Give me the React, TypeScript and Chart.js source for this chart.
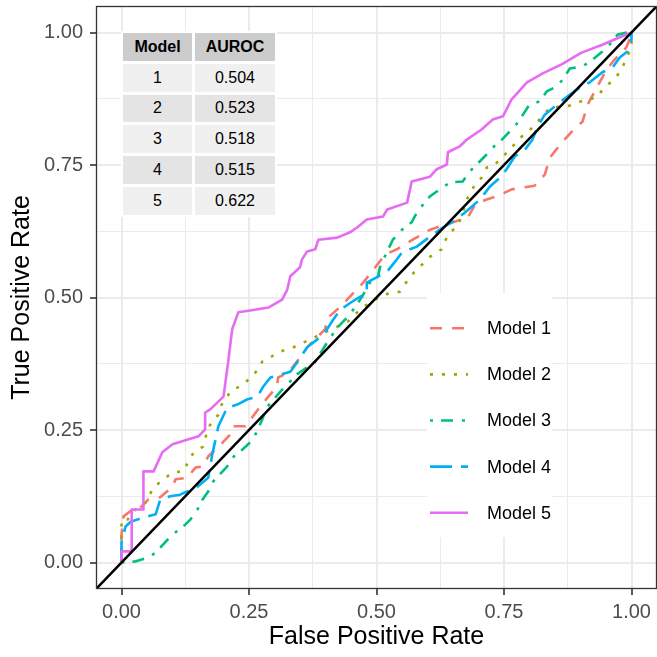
import React, { useEffect, useRef } from 'react';
import { Chart, registerables } from 'chart.js';

Chart.register(...registerables);

const FONT = '"Liberation Sans", Arial, Helvetica, sans-serif';

// ---------- data ----------
const modelNames = ['Model 1', 'Model 2', 'Model 3', 'Model 4', 'Model 5'];
const modelColors = ['#F8766D', '#A3A500', '#00BF7D', '#00B0F6', '#E76BF3'];
const modelDashes = [[12, 10], [3, 9], [3, 8, 12, 9], [22, 9], []];

const model1Fpr = [0, 0, 0.004, 0.022, 0.033, 0.053, 0.076, 0.1, 0.106, 0.129, 0.145, 0.159, 0.17, 0.198, 0.217, 0.219, 0.243, 0.268, 0.288, 0.305, 0.307, 0.327, 0.344, 0.366, 0.399, 0.405, 0.432, 0.452, 0.474, 0.517, 0.54, 0.571, 0.605, 0.679, 0.693, 0.716, 0.736, 0.765, 0.81, 0.83, 0.84, 0.863, 0.883, 0.904, 0.914, 0.932, 0.951, 0.967, 0.99, 0.996, 1];
const model1Tpr = [0, 0.053, 0.087, 0.1, 0.1, 0.119, 0.123, 0.143, 0.157, 0.16, 0.179, 0.181, 0.2, 0.226, 0.245, 0.257, 0.257, 0.289, 0.313, 0.332, 0.349, 0.358, 0.379, 0.408, 0.44, 0.462, 0.485, 0.506, 0.528, 0.581, 0.591, 0.609, 0.628, 0.651, 0.675, 0.685, 0.691, 0.704, 0.711, 0.732, 0.764, 0.792, 0.813, 0.832, 0.864, 0.896, 0.93, 0.949, 0.972, 0.987, 1];

const model2Fpr = [0, 0, 0.012, 0.027, 0.047, 0.063, 0.1, 0.121, 0.139, 0.16, 0.17, 0.19, 0.198, 0.217, 0.233, 0.249, 0.268, 0.276, 0.292, 0.305, 0.337, 0.37, 0.403, 0.419, 0.444, 0.472, 0.497, 0.526, 0.546, 0.566, 0.585, 0.605, 0.628, 0.64, 0.658, 0.667, 0.677, 0.693, 0.706, 0.716, 0.728, 0.748, 0.761, 0.785, 0.796, 0.816, 0.84, 0.879, 0.912, 0.932, 0.943, 0.971, 0.982, 0.996, 1, 1];
const model2Tpr = [0, 0.081, 0.081, 0.1, 0.113, 0.142, 0.17, 0.172, 0.204, 0.219, 0.255, 0.279, 0.302, 0.326, 0.332, 0.345, 0.364, 0.379, 0.387, 0.396, 0.406, 0.421, 0.436, 0.443, 0.455, 0.481, 0.496, 0.509, 0.511, 0.54, 0.558, 0.577, 0.591, 0.619, 0.634, 0.653, 0.685, 0.713, 0.726, 0.745, 0.747, 0.766, 0.779, 0.804, 0.811, 0.832, 0.858, 0.862, 0.874, 0.877, 0.892, 0.917, 0.934, 0.964, 0.968, 1];

const model3Fpr = [0, 0.027, 0.057, 0.076, 0.1, 0.119, 0.135, 0.149, 0.159, 0.17, 0.18, 0.207, 0.223, 0.237, 0.258, 0.276, 0.284, 0.315, 0.344, 0.38, 0.403, 0.423, 0.448, 0.472, 0.487, 0.503, 0.507, 0.523, 0.532, 0.55, 0.569, 0.579, 0.591, 0.605, 0.624, 0.644, 0.669, 0.683, 0.712, 0.728, 0.746, 0.761, 0.777, 0.8, 0.82, 0.834, 0.853, 0.865, 0.879, 0.904, 0.924, 0.943, 0.957, 0.973, 0.992, 1];
const model3Tpr = [0, 0.002, 0.011, 0.028, 0.053, 0.066, 0.081, 0.1, 0.119, 0.134, 0.153, 0.181, 0.204, 0.213, 0.232, 0.27, 0.292, 0.326, 0.355, 0.379, 0.415, 0.443, 0.468, 0.502, 0.528, 0.54, 0.558, 0.591, 0.609, 0.628, 0.642, 0.66, 0.675, 0.691, 0.704, 0.717, 0.719, 0.738, 0.766, 0.783, 0.798, 0.813, 0.83, 0.864, 0.87, 0.889, 0.898, 0.911, 0.932, 0.936, 0.949, 0.964, 0.977, 0.996, 1, 1];

const model4Fpr = [0, 0, 0.008, 0.018, 0.051, 0.067, 0.076, 0.096, 0.115, 0.149, 0.17, 0.178, 0.19, 0.207, 0.227, 0.247, 0.266, 0.278, 0.292, 0.331, 0.344, 0.364, 0.384, 0.403, 0.415, 0.429, 0.452, 0.481, 0.481, 0.521, 0.54, 0.55, 0.579, 0.605, 0.63, 0.65, 0.673, 0.703, 0.722, 0.742, 0.755, 0.771, 0.791, 0.806, 0.816, 0.83, 0.859, 0.892, 0.918, 0.943, 0.963, 0.977, 0.992, 1, 1];
const model4Tpr = [0, 0.038, 0.068, 0.077, 0.087, 0.091, 0.119, 0.125, 0.128, 0.143, 0.16, 0.204, 0.257, 0.292, 0.298, 0.308, 0.313, 0.332, 0.349, 0.36, 0.377, 0.406, 0.421, 0.44, 0.458, 0.477, 0.492, 0.509, 0.528, 0.549, 0.572, 0.585, 0.596, 0.615, 0.632, 0.643, 0.66, 0.685, 0.709, 0.726, 0.742, 0.766, 0.779, 0.798, 0.823, 0.845, 0.868, 0.892, 0.906, 0.925, 0.934, 0.953, 0.964, 0.987, 1];

const model5Fpr = [0, 0, 0.02, 0.02, 0.043, 0.043, 0.063, 0.08, 0.1, 0.151, 0.164, 0.164, 0.174, 0.2, 0.209, 0.217, 0.229, 0.249, 0.288, 0.315, 0.325, 0.331, 0.35, 0.354, 0.364, 0.38, 0.386, 0.423, 0.448, 0.462, 0.481, 0.513, 0.521, 0.56, 0.569, 0.605, 0.618, 0.638, 0.64, 0.663, 0.677, 0.706, 0.728, 0.748, 0.765, 0.795, 0.826, 0.863, 0.902, 0.943, 0.977, 1];
const model5Tpr = [0, 0.021, 0.021, 0.1, 0.1, 0.172, 0.172, 0.208, 0.223, 0.238, 0.251, 0.283, 0.289, 0.313, 0.377, 0.44, 0.472, 0.475, 0.481, 0.496, 0.515, 0.54, 0.557, 0.572, 0.587, 0.591, 0.609, 0.613, 0.623, 0.632, 0.647, 0.653, 0.666, 0.679, 0.719, 0.728, 0.742, 0.751, 0.774, 0.785, 0.798, 0.817, 0.836, 0.842, 0.874, 0.906, 0.923, 0.94, 0.962, 0.977, 0.991, 1];

const diagonalX = [-0.05, 1.05];
const diagonalY = [-0.05, 1.05];

const majorTicks = [0, 0.25, 0.5, 0.75, 1];
const minorTicks = [0.125, 0.375, 0.625, 0.875];

const tableModels = ['1', '2', '3', '4', '5'];
const tableAuroc = ['0.504', '0.523', '0.518', '0.515', '0.622'];

const xTitle = 'False Positive Rate';
const yTitle = 'True Positive Rate';

// ---------- helpers ----------
const isMajor = (v: number) => majorTicks.some((m) => Math.abs(m - v) < 1e-6);
const allTicks = [...majorTicks, ...minorTicks].sort((a, b) => a - b);

function makeScale(axis: 'x' | 'y') {
  return {
    type: 'linear',
    min: -0.05,
    max: 1.05,
    afterBuildTicks: (sc: any) => {
      sc.ticks = allTicks.map((v) => ({ value: v }));
    },
    afterFit: (sc: any) => {
      if (axis === 'x') sc.height = 68;
      else sc.width = 96;
      sc.paddingTop = 0;
      sc.paddingBottom = 0;
      sc.paddingLeft = 0;
      sc.paddingRight = 0;
    },
    ticks: {
      autoSkip: false,
      maxRotation: 0,
      padding: axis === 'x' ? 5 : 7,
      color: '#4D4D4D',
      font: { family: FONT, size: 20 },
      callback: (v: any) => (isMajor(Number(v)) ? Number(v).toFixed(2) : ''),
    },
    grid: {
      color: '#EBEBEB',
      lineWidth: (c: any) => (c.tick && isMajor(c.tick.value) ? 2 : 1),
      drawTicks: true,
      tickLength: 6,
      tickWidth: 1.6,
      tickColor: (c: any) => (c.tick && isMajor(c.tick.value) ? '#333333' : 'rgba(0,0,0,0)'),
    },
    border: { display: false },
    title: {
      display: true,
      text: axis === 'x' ? xTitle : yTitle,
      color: '#000000',
      font: { family: FONT, size: 25 },
      padding: axis === 'x' ? { top: 0, bottom: 5 } : { top: 7, bottom: 0 },
    },
  };
}

const insideLegend = {
  id: 'insideLegend',
  afterDatasetsDraw(chart: any) {
    const ctx = chart.ctx;
    const ds = chart.data.datasets.filter((d: any) => d.label);
    ctx.save();
    ctx.fillStyle = '#FFFFFF';
    ctx.fillRect(427, 293, 125, 244);
    ds.forEach((d: any, i: number) => {
      const y = 328.3 + i * 46.1;
      ctx.strokeStyle = d.borderColor;
      ctx.lineWidth = d.borderWidth;
      ctx.lineCap = 'butt';
      ctx.setLineDash(d.borderDash || []);
      ctx.beginPath();
      ctx.moveTo(430, y);
      ctx.lineTo(468, y);
      ctx.stroke();
      ctx.setLineDash([]);
      ctx.fillStyle = '#000000';
      ctx.font = `18px ${FONT}`;
      ctx.textBaseline = 'middle';
      ctx.textAlign = 'left';
      ctx.fillText(d.label, 487, y + 1);
    });
    ctx.restore();
  },
};

const panelBorder = {
  id: 'panelBorder',
  afterDraw(chart: any) {
    const { ctx, chartArea } = chart;
    ctx.save();
    ctx.strokeStyle = '#333333';
    ctx.lineWidth = 1.3;
    ctx.strokeRect(
      chartArea.left + 0.5,
      chartArea.top + 0.5,
      chartArea.right - chartArea.left - 1,
      chartArea.bottom - chartArea.top - 1
    );
    ctx.restore();
  },
};

export default function App() {
  const ref = useRef<HTMLCanvasElement | null>(null);

  useEffect(() => {
    if (!ref.current) return;
    const fprs = [model1Fpr, model2Fpr, model3Fpr, model4Fpr, model5Fpr];
    const tprs = [model1Tpr, model2Tpr, model3Tpr, model4Tpr, model5Tpr];

    const modelSets = modelNames.map((name, i) => ({
      label: name,
      data: fprs[i].map((x, j) => ({ x, y: tprs[i][j] })),
      borderColor: modelColors[i],
      backgroundColor: modelColors[i],
      borderWidth: 2.6,
      borderDash: modelDashes[i],
      borderCapStyle: 'butt',
      borderJoinStyle: 'round',
      pointRadius: 0,
      fill: false,
      tension: 0,
      order: modelNames.length - i,
    }));

    const diagonal = {
      label: '',
      data: diagonalX.map((x, j) => ({ x, y: diagonalY[j] })),
      borderColor: '#000000',
      borderWidth: 2.6,
      pointRadius: 0,
      fill: false,
      tension: 0,
      order: 0,
    };

    const chart = new Chart(ref.current, {
      type: 'line',
      data: { datasets: [...modelSets, diagonal] as any },
      options: {
        responsive: false,
        animation: false,
        devicePixelRatio: 1,
        layout: { padding: { top: 6, right: 0, left: 0, bottom: 0 } },
        plugins: { legend: { display: false }, tooltip: { enabled: false } },
        scales: { x: makeScale('x') as any, y: makeScale('y') as any },
      },
      plugins: [insideLegend, panelBorder],
    });
    return () => chart.destroy();
  }, []);

  const cell = (bg: string, bold = false): React.CSSProperties => ({
    background: bg,
    height: 27.8,
    display: 'flex',
    alignItems: 'center',
    justifyContent: 'center',
    fontWeight: bold ? 700 : 400,
    lineHeight: 1,
    color: '#000',
  });

  return (
    <div style={{ position: 'absolute', left: 0, top: 0, width: 657, height: 657, background: '#fff' }}>
      <canvas ref={ref} width={657} height={657} style={{ width: 657, height: 657, display: 'block' }} />
      <div
        style={{
          position: 'absolute',
          left: 121,
          top: 31,
          padding: 2,
          background: '#FFFFFF',
          display: 'grid',
          gridTemplateColumns: '69px 80px',
          columnGap: 3,
          rowGap: 3,
          fontFamily: FONT,
          fontSize: 16,
        }}
      >
        <div style={cell('#CCCCCC', true)}>Model</div>
        <div style={cell('#CCCCCC', true)}>AUROC</div>
        {tableModels.map((m, i) => (
          <React.Fragment key={m}>
            <div style={cell(i % 2 === 0 ? '#F0F0F0' : '#E4E4E4')}>{m}</div>
            <div style={cell(i % 2 === 0 ? '#F0F0F0' : '#E4E4E4')}>{tableAuroc[i]}</div>
          </React.Fragment>
        ))}
      </div>
    </div>
  );
}
